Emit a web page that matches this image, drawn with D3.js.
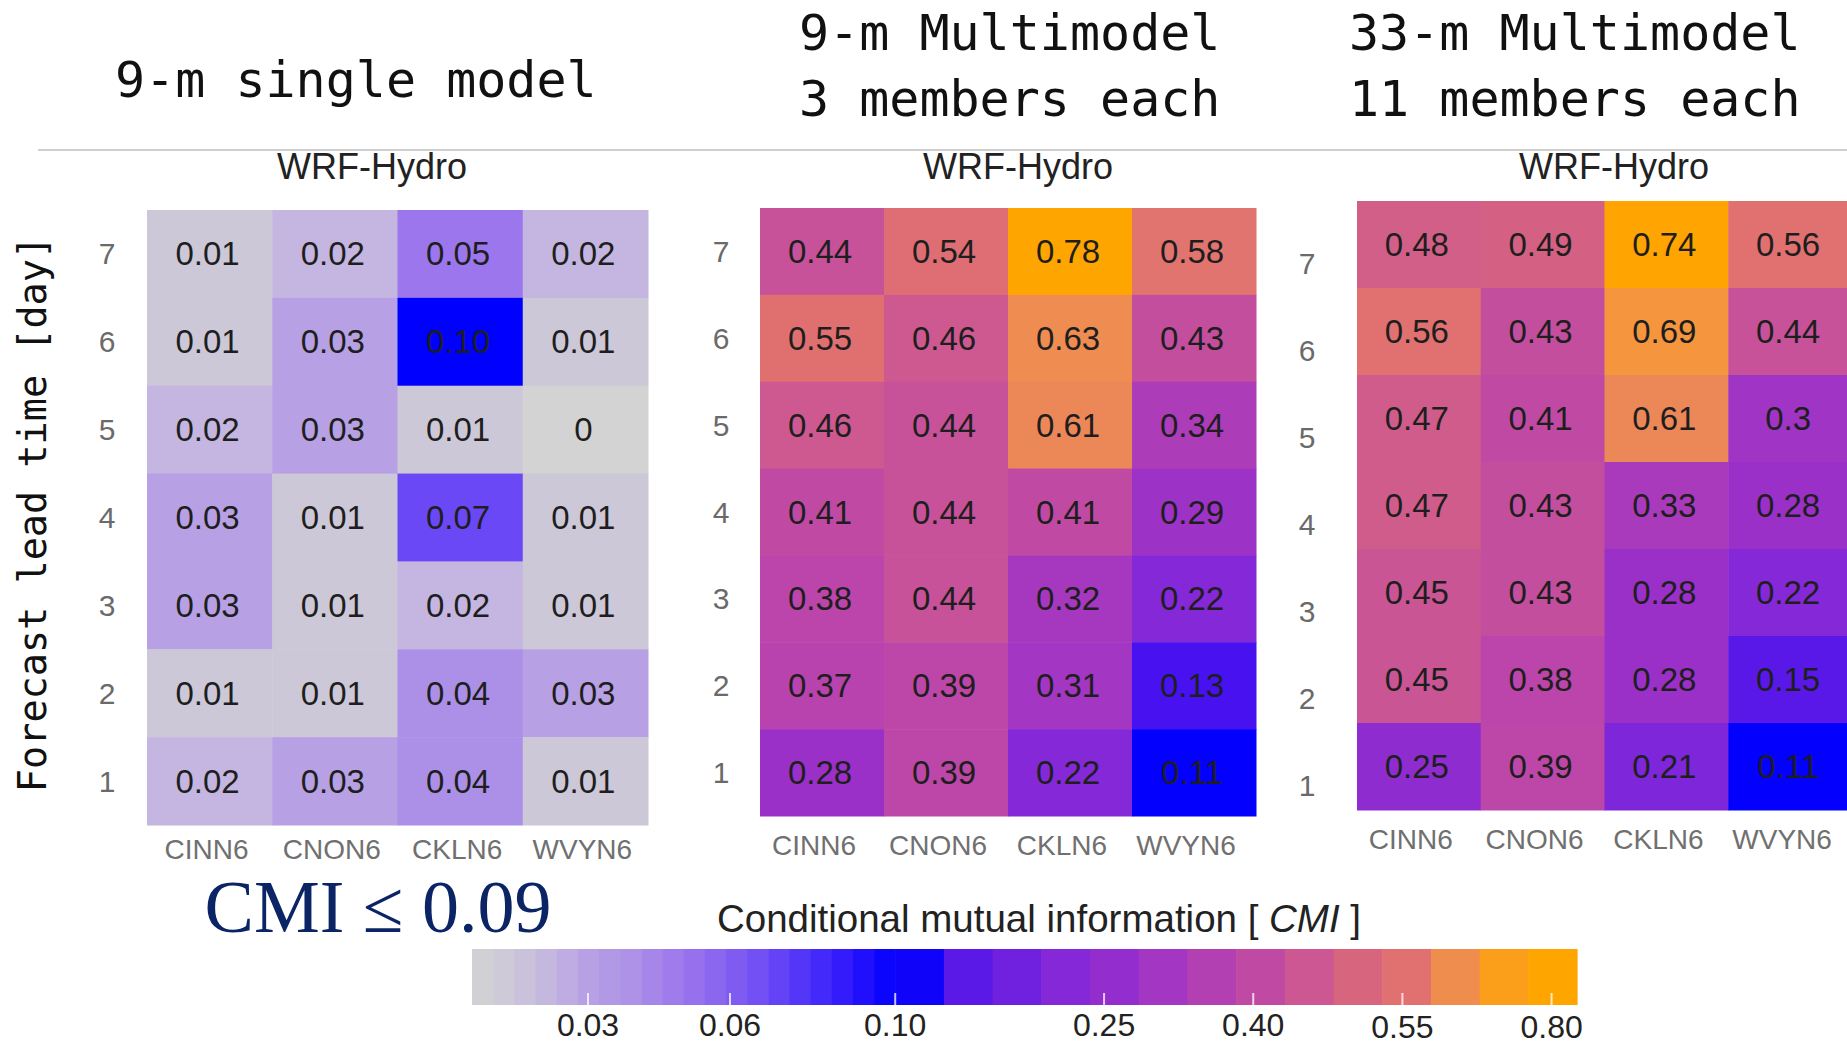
<!DOCTYPE html>
<html>
<head>
<meta charset="utf-8">
<script src="https://cdn.jsdelivr.net/npm/d3@7"></script>
<style>
  body { margin: 0; background: #fff; }
  svg { display: block; }
</style>
</head>
<body>
<svg id="chart" width="1847" height="1046"></svg>
<script>
// ---- data ----
const stations = ["CINN6", "CNON6", "CKLN6", "WVYN6"];
const leadDays = [7, 6, 5, 4, 3, 2, 1];

// rows follow leadDays (7 at the top), labels kept as printed
const singleModel = [
    ["0.01", "0.02", "0.05", "0.02"],
    ["0.01", "0.03", "0.10", "0.01"],
    ["0.02", "0.03", "0.01", "0"],
    ["0.03", "0.01", "0.07", "0.01"],
    ["0.03", "0.01", "0.02", "0.01"],
    ["0.01", "0.01", "0.04", "0.03"],
    ["0.02", "0.03", "0.04", "0.01"]
];
const multi9 = [
    ["0.44", "0.54", "0.78", "0.58"],
    ["0.55", "0.46", "0.63", "0.43"],
    ["0.46", "0.44", "0.61", "0.34"],
    ["0.41", "0.44", "0.41", "0.29"],
    ["0.38", "0.44", "0.32", "0.22"],
    ["0.37", "0.39", "0.31", "0.13"],
    ["0.28", "0.39", "0.22", "0.11"]
];
const multi33 = [
    ["0.48", "0.49", "0.74", "0.56"],
    ["0.56", "0.43", "0.69", "0.44"],
    ["0.47", "0.41", "0.61", "0.3"],
    ["0.47", "0.43", "0.33", "0.28"],
    ["0.45", "0.43", "0.28", "0.22"],
    ["0.45", "0.38", "0.28", "0.15"],
    ["0.25", "0.39", "0.21", "0.11"]
];
const panelTitle = "WRF-Hydro";
const headerSingle = ["9-m single model"];
const headerMulti9 = ["9-m Multimodel", "3 members each"];
const headerMulti33 = ["33-m Multimodel", "11 members each"];
const yAxisTitle = "Forecast lead time [day]";
const thresholdNote = "CMI \u2264 0.09";

const cbarTicks = [0.03, 0.06, 0.10, 0.25, 0.40, 0.55, 0.80];
const colourStops = [0, 0.01, 0.02, 0.03, 0.04, 0.05, 0.07, 0.09, 0.10, 0.115, 0.13, 0.15,
    0.22, 0.28, 0.32, 0.38, 0.43, 0.47, 0.50, 0.55, 0.58, 0.61, 0.69, 0.74, 0.80];
const colourValues = ["#d3d3d3", "#cdc8d8", "#c4b6e0", "#b7a0e4", "#ac90e8", "#9c76ec", "#6a48f6",
    "#2a14fc", "#0000ff", "#0400fc", "#4812f0", "#5a18e8", "#8428d8", "#9a30c8", "#a638c0",
    "#bb45aa", "#c44e9e", "#d05c8c", "#d6647e", "#e07070", "#e27470", "#ec8858", "#f5963e",
    "#ffa400", "#ffa500"];

// ---- drawing ----
const svg = d3.select("#chart");
const sans = "'Liberation Sans', Arial, sans-serif";
const mono = "'DejaVu Sans Mono', monospace";

const colour = d3.scaleLinear().domain(colourStops).range(colourValues).clamp(true);

// header texts
function header(lines, x, y0, lineGap) {
    svg.append("g").selectAll("text")
        .data(lines)
        .join("text")
        .attr("x", x)
        .attr("y", (d, i) => y0 + i * lineGap)
        .attr("font-family", mono)
        .attr("font-size", 50)
        .attr("fill", "#111")
        .text(d => d);
}
header(headerSingle, 115, 97, 0);
header(headerMulti9, 799, 50, 66);
header(headerMulti33, 1349, 50, 66);

svg.append("line")
    .attr("x1", 38).attr("x2", 1847)
    .attr("y1", 150).attr("y2", 150)
    .attr("stroke", "#cfcfcf")
    .attr("stroke-width", 2);

// y axis title
svg.append("text")
    .attr("transform", "translate(46, 514) rotate(-90)")
    .attr("text-anchor", "middle")
    .attr("font-family", mono)
    .attr("font-size", 38.5)
    .attr("fill", "#111")
    .text(yAxisTitle);

const panels = [
    { rows: singleModel, x: 147, y: 210, w: 501, h: 615, titleX: 372, rowLabelX: 107, rowShift: 0, colLabelY: 849, colShift: -3 },
    { rows: multi9, x: 760, y: 208, w: 496, h: 608, titleX: 1018, rowLabelX: 721, rowShift: 0, colLabelY: 845, colShift: -8 },
    { rows: multi33, x: 1357, y: 201, w: 495, h: 609, titleX: 1614, rowLabelX: 1307, rowShift: 19, colLabelY: 839, colShift: -8 }
];

panels.forEach(p => {
    const g = svg.append("g").attr("transform", `translate(${p.x}, ${p.y})`);
    const x = d3.scaleBand().domain(stations).range([0, p.w]);
    const y = d3.scaleBand().domain(leadDays).range([0, p.h]);

    const cells = [];
    p.rows.forEach((row, i) => row.forEach((label, j) => {
        cells.push({ day: leadDays[i], station: stations[j], label, value: +label });
    }));

    g.selectAll("rect")
        .data(cells)
        .join("rect")
        .attr("x", d => x(d.station))
        .attr("y", d => y(d.day))
        .attr("width", x.bandwidth() + 0.5)
        .attr("height", y.bandwidth() + 0.5)
        .attr("fill", d => colour(d.value));

    g.selectAll("text.val")
        .data(cells)
        .join("text")
        .attr("class", "val")
        .attr("x", d => x(d.station) + x.bandwidth() / 2 - 2)
        .attr("y", d => y(d.day) + y.bandwidth() / 2)
        .attr("text-anchor", "middle")
        .attr("dominant-baseline", "central")
        .attr("font-family", sans)
        .attr("font-size", 33)
        .attr("fill", "#1e1e1e")
        .text(d => d.label);

    g.append("text")
        .attr("x", p.titleX - p.x)
        .attr("y", 179 - p.y)
        .attr("text-anchor", "middle")
        .attr("font-family", sans)
        .attr("font-size", 36)
        .attr("fill", "#222")
        .text(panelTitle);

    g.selectAll("text.row")
        .data(leadDays)
        .join("text")
        .attr("class", "row")
        .attr("x", p.rowLabelX - p.x)
        .attr("y", d => y(d) + y.bandwidth() / 2 + p.rowShift)
        .attr("text-anchor", "middle")
        .attr("dominant-baseline", "central")
        .attr("font-family", sans)
        .attr("font-size", 30)
        .attr("fill", "#6a6a6a")
        .text(d => d);

    g.selectAll("text.col")
        .data(stations)
        .join("text")
        .attr("class", "col")
        .attr("x", d => x(d) + x.bandwidth() / 2 + p.colShift)
        .attr("y", p.colLabelY - p.y)
        .attr("text-anchor", "middle")
        .attr("dominant-baseline", "central")
        .attr("font-family", sans)
        .attr("font-size", 28)
        .attr("fill", "#707070")
        .text(d => d);
});

// threshold note
svg.append("text")
    .attr("x", 378)
    .attr("y", 932)
    .attr("text-anchor", "middle")
    .attr("font-family", "'Liberation Serif', 'DejaVu Serif', serif")
    .attr("font-size", 74)
    .attr("fill", "#0b2466")
    .text(thresholdNote);

// ---- colour bar ----
const cb = { x0: 472, x1: 1577, y0: 949, y1: 1005 };
const cbPos = d3.scaleLinear()
    .domain([0, ...cbarTicks, 0.85])
    .range([0, 0.105, 0.2335, 0.383, 0.572, 0.707, 0.842, 0.977, 1].map(f => cb.x0 + f * (cb.x1 - cb.x0)));

const splitX = cbPos(0.10);
const segments = [];
d3.range(20).forEach(i => {
    const w = (splitX - cb.x0) / 20;
    segments.push({ x: cb.x0 + i * w, w });
});
d3.range(14).forEach(i => {
    const w = (cb.x1 - splitX) / 14;
    segments.push({ x: splitX + i * w, w });
});

const cbar = svg.append("g");
cbar.selectAll("rect")
    .data(segments)
    .join("rect")
    .attr("x", d => d.x)
    .attr("y", cb.y0)
    .attr("width", d => d.w + 0.6)
    .attr("height", cb.y1 - cb.y0)
    .attr("fill", d => colour(cbPos.invert(d.x + d.w / 2)));

cbar.selectAll("line")
    .data(cbarTicks)
    .join("line")
    .attr("x1", d => cbPos(d)).attr("x2", d => cbPos(d))
    .attr("y1", cb.y1 - 12).attr("y2", cb.y1)
    .attr("stroke", "rgba(255,255,255,0.75)")
    .attr("stroke-width", 2);

cbar.selectAll("text")
    .data(cbarTicks)
    .join("text")
    .attr("x", d => cbPos(d))
    .attr("y", d => d >= 0.55 ? 1038 : 1036)
    .attr("text-anchor", "middle")
    .attr("font-family", sans)
    .attr("font-size", 32)
    .attr("fill", "#222")
    .text(d => d3.format(".2f")(d));

const cbTitle = svg.append("text")
    .attr("x", 1039)
    .attr("y", 932)
    .attr("text-anchor", "middle")
    .attr("font-family", sans)
    .attr("font-size", 38.5)
    .attr("fill", "#222");
cbTitle.append("tspan").text("Conditional mutual information [ ");
cbTitle.append("tspan").attr("font-style", "italic").text("CMI");
cbTitle.append("tspan").text(" ]");
</script>
</body>
</html>
